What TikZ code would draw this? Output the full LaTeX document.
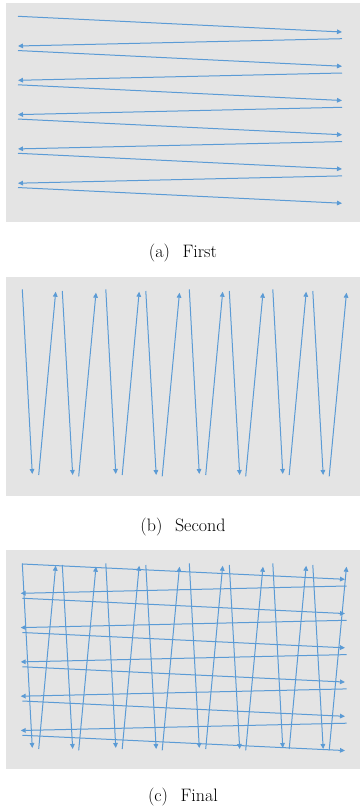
\documentclass[tikz,border=0pt]{standalone}
\usepackage{tikz}
\usetikzlibrary{arrows.meta}
\definecolor{scanblue}{RGB}{91,155,213}
\definecolor{panelgray}{RGB}{228,228,228}
\tikzset{
  panel/.style={fill=panelgray,draw=none},
  scan/.style={scanblue,line width=1pt,-{Triangle[length=5pt,width=4.6pt]}},
  caption/.style={font=\fontsize{18}{21}\selectfont}
}

\begin{document}
\begin{tikzpicture}[x=1pt,y=-1pt]
\useasboundingbox (0,0) rectangle (360,811);
% (a) rows
\fill[panel] (6,3) rectangle (360,222);
\foreach \i in {0,...,5}
  \draw[scan] (18,16.3+34.25*\i) -- (342,32+34.25*\i);
\foreach \i in {0,...,4}
  \draw[scan] (342,38.7+34.3*\i) -- (18,46+34.3*\i);
\node[caption] (capA) at (183,253.5) {(a)\hspace{.7em}First};
% (b) columns
\fill[panel] (6,277) rectangle (360,496);
\foreach \k in {0,...,3}{
  \pgfmathsetmacro\o{83.5*\k}
  \draw[scan] (22.3+\o,289.3) -- (32.3+\o,474);
  \draw[scan] (38.7+\o,475) -- (55.7+\o,291.7);
  \draw[scan] (62.3+\o,291) -- (72.7+\o,475);
  \draw[scan] (78.7+\o,476.3) -- (96+\o,292.7);
}
\node[caption] (capB) at (183,526.7) {(b)\hspace{.7em}Second};
% (c) both
\fill[panel] (6,550) rectangle (360,768.5);
\foreach \i in {0,...,5}
  \draw[scan] (22.3,564+34.25*\i) -- (345,579.3+34.25*\i);
\foreach \i in {0,...,4}
  \draw[scan] (346.7,586+34.3*\i) -- (20.7,593.3+34.3*\i);
\foreach \k in {0,...,3}{
  \pgfmathsetmacro\o{83.5*\k}
  \draw[scan] (22.3+\o,563.3) -- (32.3+\o,748);
  \draw[scan] (38.7+\o,749) -- (55.7+\o,565.7);
  \draw[scan] (62.3+\o,565) -- (72.7+\o,749);
  \draw[scan] (78.7+\o,750.3) -- (96+\o,566.7);
}
\node[caption] (capC) at (183,796.8) {(c)\hspace{.7em}Final};
\end{tikzpicture}
\end{document}
